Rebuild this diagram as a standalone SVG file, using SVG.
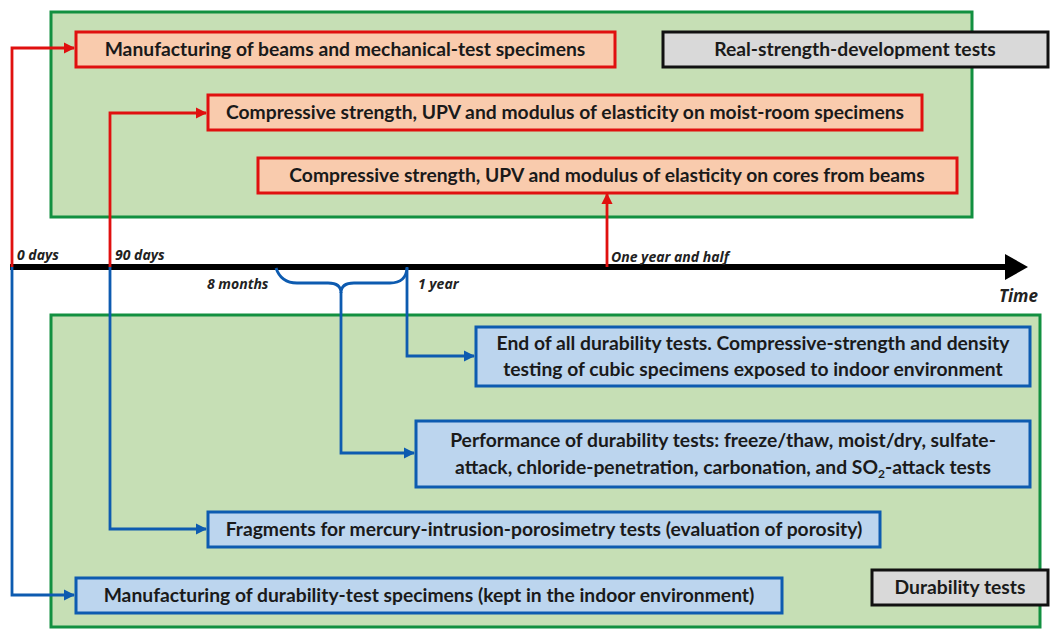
<svg xmlns="http://www.w3.org/2000/svg" width="1051" height="629" viewBox="0 0 1051 629">
<defs>
<style>
.panel{fill:#c6dfb5;stroke:#129040;stroke-width:3}
.red{fill:#f9cbad;stroke:#e0100f;stroke-width:3}
.blue{fill:#bcd5ee;stroke:#0d5bb0;stroke-width:3}
.gray{fill:#d9d9d9;stroke:#111;stroke-width:3}
.t{font-family:Lato,"Open Sans",sans-serif;font-weight:bold;font-size:19.3px;fill:#1a1a1a;text-anchor:middle}
.lab{font-family:"Open Sans","Liberation Sans",sans-serif;font-weight:bold;font-style:italic;font-size:14px;fill:#222}
.rl{fill:none;stroke:#e0100f;stroke-width:2.8}
.bl{fill:none;stroke:#0d5bb0;stroke-width:2.8}
</style>
<marker id="ar" viewBox="0 0 10 10" refX="9" refY="5" markerWidth="4" markerHeight="4" orient="auto" markerUnits="strokeWidth"><path d="M0,0 L10,5 L0,10 z" fill="#e0100f"/></marker>
<marker id="ab" viewBox="0 0 10 10" refX="9" refY="5" markerWidth="4" markerHeight="4" orient="auto" markerUnits="strokeWidth"><path d="M0,0 L10,5 L0,10 z" fill="#0d5bb0"/></marker>
</defs>
<rect width="1051" height="629" fill="#fff"/>
<g id="panel-top"><rect class="panel" x="51" y="12" width="921" height="205"/></g>
<g id="panel-bottom"><rect class="panel" x="51" y="315" width="989" height="312"/></g>
<g id="timeline">
<line x1="10" y1="267" x2="1008" y2="267" stroke="#000" stroke-width="6"/>
<polygon points="1005,254 1028,267 1005,280" fill="#000"/>
<text class="lab" x="999" y="302" style="font-size:17px">Time</text>
<text class="lab" x="17" y="260">0 days</text>
<text class="lab" x="115" y="260">90 days</text>
<text class="lab" x="207" y="289">8 months</text>
<text class="lab" x="418" y="289">1 year</text>
<text class="lab" x="611" y="262">One year and half</text>
</g>
<g id="connectors">
<path class="rl" d="M12,267 V48 H74" marker-end="url(#ar)"/>
<path class="rl" d="M110,267 V113 H206" marker-end="url(#ar)"/>
<path class="rl" d="M607,267 V194" marker-end="url(#ar)"/>
<path class="bl" d="M12,267 V595 H74" marker-end="url(#ab)"/>
<path class="bl" d="M110,267 V529 H206" marker-end="url(#ab)"/>
<path class="bl" d="M407,267 V356 H474" marker-end="url(#ab)"/>
<path class="bl" d="M276,268 Q281,283 297,283 H328 Q341,283 341,293 Q341,283 354,283 H390 Q406,283 407,268"/>
<path class="bl" d="M341,292 V453 H414" marker-end="url(#ab)"/>
</g>
<g id="node-manufacturing-beams"><rect class="red" x="76" y="32" width="539" height="35"/><text class="t" x="345" y="56">Manufacturing of beams and mechanical-test specimens</text></g>
<g id="node-real-strength"><rect class="gray" x="663" y="32" width="385" height="35"/><text class="t" x="855" y="56">Real-strength-development tests</text></g>
<g id="node-moist-room"><rect class="red" x="208" y="95" width="714" height="35"/><text class="t" x="565" y="119">Compressive strength, UPV and modulus of elasticity on moist-room specimens</text></g>
<g id="node-cores"><rect class="red" x="258" y="158" width="699" height="35"/><text class="t" x="607" y="182">Compressive strength, UPV and modulus of elasticity on cores from beams</text></g>
<g id="node-end-durability"><rect class="blue" x="476" y="327" width="554" height="59"/><text class="t" x="753" y="350">End of all durability tests. Compressive-strength and density</text><text class="t" x="753" y="376">testing of cubic specimens exposed to indoor environment</text></g>
<g id="node-performance"><rect class="blue" x="416" y="421" width="614" height="66"/><text class="t" x="723" y="447">Performance of durability tests: freeze/thaw, moist/dry, sulfate-</text><text class="t" x="723" y="474">attack, chloride-penetration, carbonation, and SO<tspan font-size="12" dy="4">2</tspan><tspan dy="-4">-attack tests</tspan></text></g>
<g id="node-fragments"><rect class="blue" x="208" y="512" width="672" height="35"/><text class="t" x="544" y="536">Fragments for mercury-intrusion-porosimetry tests (evaluation of porosity)</text></g>
<g id="node-manufacturing-durability"><rect class="blue" x="76" y="578" width="706" height="35"/><text class="t" x="429" y="602">Manufacturing of durability-test specimens (kept in the indoor environment)</text></g>
<g id="node-durability-tests"><rect class="gray" x="872" y="570" width="176" height="35"/><text class="t" x="960" y="594">Durability tests</text></g>
</svg>
